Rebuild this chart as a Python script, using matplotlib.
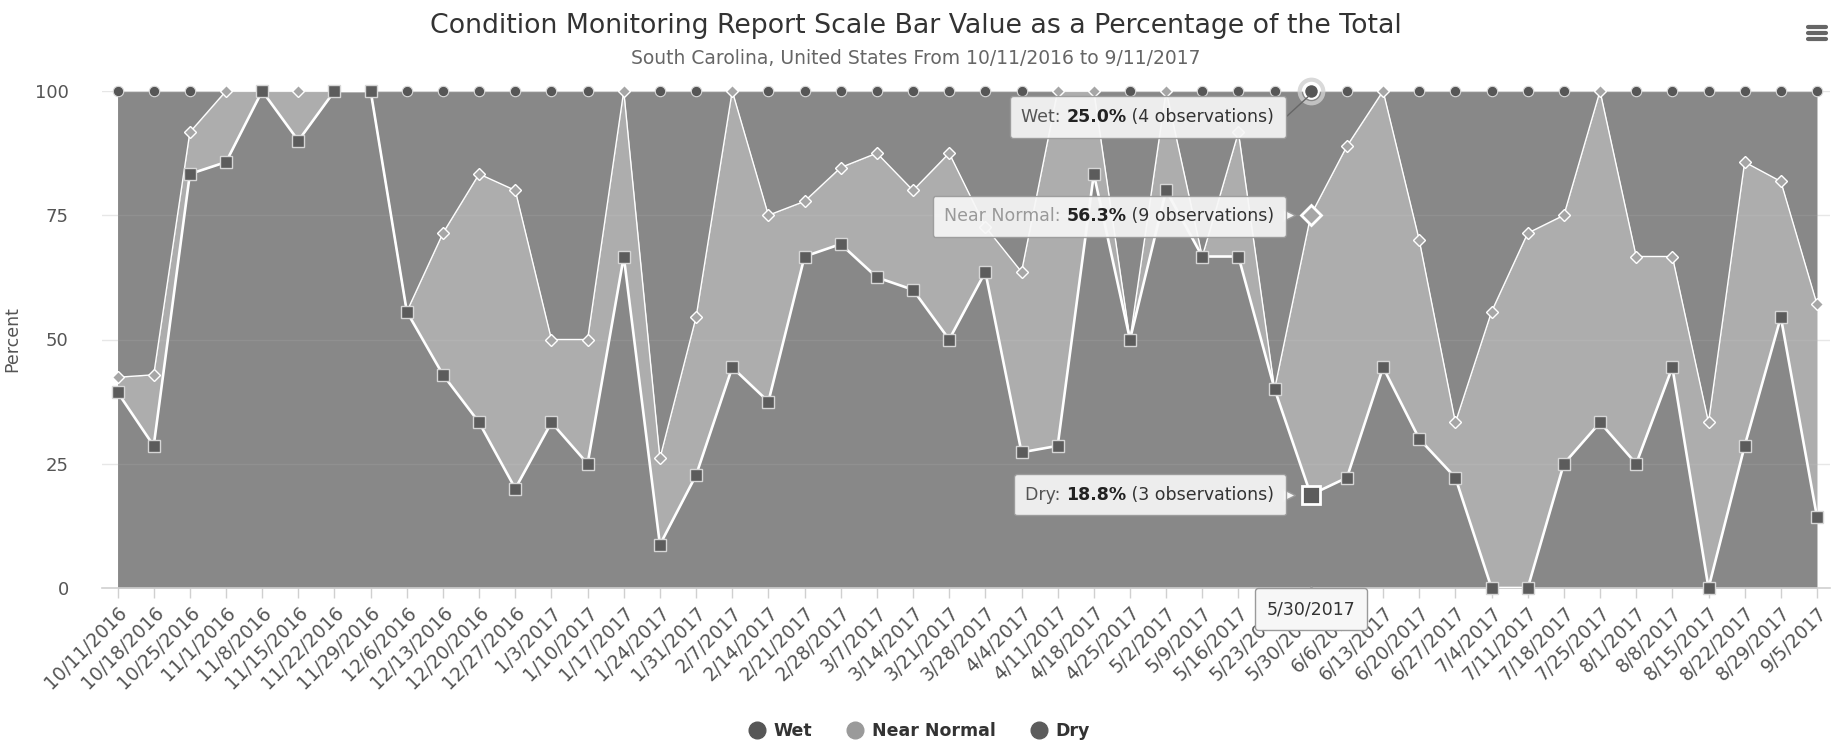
import numpy as np
import matplotlib
matplotlib.use("Agg")
import matplotlib.pyplot as plt
from matplotlib.lines import Line2D
from matplotlib.offsetbox import TextArea, HPacker, AnnotationBbox
from matplotlib.transforms import offset_copy

# weekly observation dates
dates = ["10/11/2016", "10/18/2016", "10/25/2016", "11/1/2016", "11/8/2016", "11/15/2016",
         "11/22/2016", "11/29/2016", "12/6/2016", "12/13/2016", "12/20/2016", "12/27/2016",
         "1/3/2017", "1/10/2017", "1/17/2017", "1/24/2017", "1/31/2017", "2/7/2017",
         "2/14/2017", "2/21/2017", "2/28/2017", "3/7/2017", "3/14/2017", "3/21/2017",
         "3/28/2017", "4/4/2017", "4/11/2017", "4/18/2017", "4/25/2017", "5/2/2017",
         "5/9/2017", "5/16/2017", "5/23/2017", "5/30/2017", "6/6/2017", "6/13/2017",
         "6/20/2017", "6/27/2017", "7/4/2017", "7/11/2017", "7/18/2017", "7/25/2017",
         "8/1/2017", "8/8/2017", "8/15/2017", "8/22/2017", "8/29/2017", "9/5/2017"]

# percent of observations per category (stacked: dry at bottom, wet on top)
dry = [39.4, 28.6, 83.3, 85.7, 100, 90, 100, 100, 55.6, 42.9, 33.3, 20,
       33.3, 25, 66.7, 8.7, 22.7, 44.4, 37.5, 66.7, 69.2, 62.5, 60, 50,
       63.6, 27.3, 28.6, 83.3, 50, 80, 66.7, 66.7, 40, 18.75, 22.2, 44.4,
       30, 22.2, 0, 0, 25, 33.3, 25, 44.4, 0, 28.6, 54.5, 14.3]
near_normal = [3.0, 14.3, 8.4, 14.3, 0, 10, 0, 0, 0, 28.5, 50, 60,
               16.7, 25, 33.3, 17.4, 31.8, 55.6, 37.5, 11.1, 15.4, 25, 20, 37.5,
               9.1, 36.3, 71.4, 16.7, 0, 20, 0, 25, 0, 56.25, 66.7, 55.6,
               40, 11.1, 55.6, 71.4, 50, 66.7, 41.7, 22.3, 33.3, 57.1, 27.3, 42.8]
wet = [57.6, 57.1, 8.3, 0, 0, 0, 0, 0, 44.4, 28.6, 16.7, 20,
       50, 50, 0, 73.9, 45.5, 0, 25, 22.2, 15.4, 12.5, 20, 12.5,
       27.3, 36.4, 0, 0, 50, 0, 33.3, 8.3, 60, 25.0, 11.1, 0,
       30, 66.7, 44.4, 28.6, 25, 0, 33.3, 33.3, 66.7, 14.3, 18.2, 42.9]

highlight = "5/30/2017"
tip_wet = ("25.0%", " (4 observations)")
tip_nn = ("56.3%", " (9 observations)")
tip_dry = ("18.8%", " (3 observations)")

W, H = 1832, 741
AREA = "#888888"
AREA_NN = "#adadad"
WET_C, NN_C, DRY_C = "#565656", "#a6a6a6", "#5c5c5c"

fig = plt.figure(figsize=(W / 100, H / 100), dpi=100)
ax = fig.add_axes([102 / W, 153 / H, 1728 / W, 497 / H])

x = np.arange(len(dates))
d = np.array(dry)
n = np.array(near_normal)
w = np.array(wet)
lo, mid, top = d, d + n, d + n + w

ax.fill_between(x, mid, top, color=AREA, lw=0, zorder=1)
ax.fill_between(x, lo, mid, color=AREA_NN, lw=0, zorder=1)
ax.fill_between(x, 0, lo, color=AREA, lw=0, zorder=1)
for g in (25, 50, 75):
    ax.axhline(g, color="white", alpha=0.07, lw=1, zorder=1.5)

ax.plot(x, top, color="#d8d8d8", lw=1.6, zorder=3)
ax.plot(x, mid, color="white", lw=1.0, zorder=4)
ax.plot(x, lo, color="white", lw=1.9, zorder=5)

mw = w > 0
mn = n > 0
ax.plot(x[mw], top[mw], "o", ms=7.5, mfc=WET_C, mec="#d8d8d8", mew=0.8,
        zorder=6, clip_on=False)
ax.plot(x[mn], mid[mn], "D", ms=6, mfc=NN_C, mec="white", mew=1.0,
        zorder=7, clip_on=False)
ax.plot(x, lo, "s", ms=8, mfc=DRY_C, mec="#d6d6d6", mew=1.0,
        zorder=8, clip_on=False)

# hovered point
h = dates.index(highlight)
ax.plot(h, top[h], "o", ms=17, mfc="none", mec="#d0d0d0", mew=3, alpha=0.8,
        zorder=9, clip_on=False)
ax.plot(h, top[h], "o", ms=10.5, mfc=WET_C, mec="white", mew=1.5, zorder=9, clip_on=False)
ax.plot(h, mid[h], "D", ms=10, mfc=NN_C, mec="white", mew=2, zorder=9, clip_on=False)
ax.plot(h, lo[h], "s", ms=12.5, mfc=DRY_C, mec="white", mew=2, zorder=9, clip_on=False)

# axes styling
ax.set_xlim(-0.43, 47.36)
ax.set_ylim(0, 100)
ax.set_yticks([0, 25, 50, 75, 100])
ax.grid(axis="y", color="#e6e6e6", lw=1, zorder=0)
ax.set_axisbelow(True)
for s in ("top", "right", "left"):
    ax.spines[s].set_visible(False)
ax.spines["bottom"].set_color("#d0d0d0")
ax.spines["bottom"].set_linewidth(1.2)
ax.set_xticks(x)
ax.set_xticklabels(dates, rotation=45, ha="right", va="top", rotation_mode="anchor",
                   fontsize=13.5, color="#555555")
ax.tick_params(axis="x", length=7, color="#d0d0d0", width=1, pad=4)
ax.tick_params(axis="y", length=0, pad=24, labelsize=13, labelcolor="#555555")
ax.set_ylabel("Percent", fontsize=12.5, color="#555555")
ax.yaxis.set_label_coords(-0.047, 0.5)


def tooltip(parts, xy, off_px, align, alpha=0.92):
    kids = [TextArea(t, textprops=dict(color=c, fontsize=12.5, fontweight=fw))
            for t, c, fw in parts]
    pack = HPacker(children=kids, pad=0, sep=0, align="baseline")
    ab = AnnotationBbox(pack, xy, xybox=(off_px[0] * 0.72, off_px[1] * 0.72),
                        xycoords="data", boxcoords="offset points",
                        box_alignment=align,
                        bboxprops=dict(boxstyle="round,pad=0.83,rounding_size=0.2",
                                       fc="#f7f7f7", ec="#9a9a9a", lw=1, alpha=alpha),
                        zorder=12, annotation_clip=False)
    ax.add_artist(ab)
    return ab


PADPX = 11.5
tooltip([("Wet: ", "#555555", "normal"), (tip_wet[0], "#222222", "bold"),
         (tip_wet[1], "#333333", "normal")], (h, top[h]), (-25 - PADPX, -26), (1, 0.5))
ax.plot([h - 0.05, h - 0.65], [top[h] - 1, top[h] - 5], color="#666666", lw=1, zorder=11)
tooltip([("Near Normal: ", "#999999", "normal"), (tip_nn[0], "#222222", "bold"),
         (tip_nn[1], "#333333", "normal")], (h, mid[h]), (-25 - PADPX, -1), (1, 0.5))
tooltip([("Dry: ", "#555555", "normal"), (tip_dry[0], "#222222", "bold"),
         (tip_dry[1], "#333333", "normal")], (h, lo[h]), (-25 - PADPX, 0), (1, 0.5))
for yv in (mid[h], lo[h]):
    ax.plot(h, yv, ">", ms=8, mfc="#f7f7f7", mec="#9a9a9a", mew=1, zorder=11.5,
            transform=offset_copy(ax.transData, fig, x=-22, y=0, units="dots"),
            clip_on=False)
tooltip([(highlight, "#333333", "normal")], (h, 0), (0, -21), (0.5, 0.5), alpha=1)
ax.plot(h, 0, "^", ms=9, mfc="#f7f7f7", mec="#9a9a9a", mew=1, zorder=11.5,
        transform=offset_copy(ax.transData, fig, x=0, y=-4, units="dots"), clip_on=False)

# titles
fig.text(0.5, 1 - 26 / H, "Condition Monitoring Report Scale Bar Value as a Percentage of the Total",
         ha="center", va="center", fontsize=19.3, color="#333333")
fig.text(0.5, 1 - 58 / H, "South Carolina, United States From 10/11/2016 to 9/11/2017",
         ha="center", va="center", fontsize=13.5, color="#666666")

# menu icon
for yy in (27, 33, 39):
    fig.add_artist(Line2D([1808 / W, 1826 / W], [1 - yy / H] * 2, color="#666666",
                          lw=3, solid_capstyle="round"))

handles = [Line2D([], [], marker="o", ls="", ms=12, mfc=c, mec=c)
           for c in (WET_C, "#9a9a9a", DRY_C)]
fig.legend(handles, ["Wet", "Near Normal", "Dry"], loc="center",
           bbox_to_anchor=(918 / W, 1 - 731 / H), ncol=3, frameon=False,
           prop=dict(weight="bold", size=12.5), labelcolor="#333333",
           handletextpad=0.35, columnspacing=1.9, handlelength=1.2)

fig.savefig("out.png", dpi=100)
